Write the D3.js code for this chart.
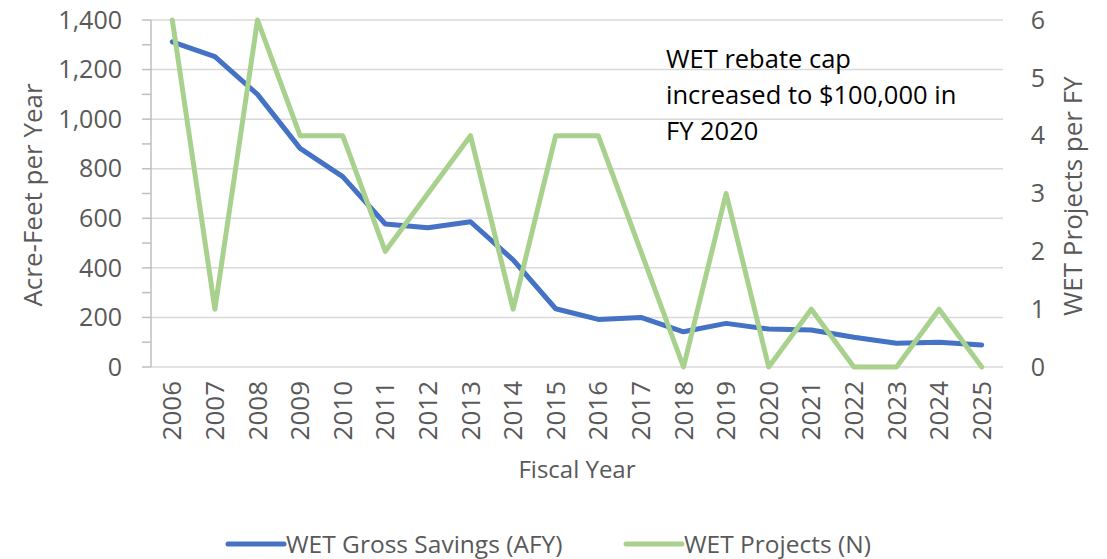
<!DOCTYPE html>
<html><head><meta charset="utf-8">
<script src="https://cdn.jsdelivr.net/npm/d3@7"></script>
<style>body{margin:0;background:#fff}svg{display:block}text{font-family:"Open Sans",sans-serif}</style>
</head><body>
<svg id="c" width="1107" height="559"></svg>
<script>
const years = ["2006","2007","2008","2009","2010","2011","2012","2013","2014","2015","2016","2017","2018","2019","2020","2021","2022","2023","2024","2025"];
const savings = [1312,1252,1100,882,768,577,562,586,432,235,192,200,142,176,153,149,120,96,100,89];
const projects = [6,1,6,4,4,2,3,4,1,4,4,2,0,3,0,1,0,0,1,0];
const leftTicks = [0,200,400,600,800,1000,1200,1400];
const rightTicks = [0,1,2,3,4,5,6];
const annotation = ["WET rebate cap","increased to $100,000 in","FY 2020"];

const svg = d3.select("#c");
const L = 151, R = 1003, T = 20, B = 367;
const x = d3.scaleBand().domain(years).range([L, R]);
const yL = d3.scaleLinear().domain([0,1400]).range([B, T]);
const yR = d3.scaleLinear().domain([0,6]).range([B, T]);
const gray = "#595959";

// gridlines
svg.append("g").selectAll("line").data(leftTicks).join("line")
  .attr("x1", L).attr("x2", R).attr("y1", d=>yL(d)).attr("y2", d=>yL(d))
  .attr("stroke", "#d9d9d9").attr("stroke-width", 1.5);

// left axis with minor ticks
const minor = d3.range(0, 1401, 100);
svg.append("g").selectAll("line").data(minor).join("line")
  .attr("x1", L-9).attr("x2", L).attr("y1", d=>yL(d)).attr("y2", d=>yL(d))
  .attr("stroke", "#bfbfbf").attr("stroke-width", 1.5);
svg.append("line").attr("x1", L).attr("x2", L).attr("y1", T).attr("y2", B)
  .attr("stroke", "#bfbfbf").attr("stroke-width", 1.5);

svg.append("g").selectAll("text").data(leftTicks).join("text")
  .attr("x", 122).attr("y", d=>yL(d)).attr("dy", "0.35em").attr("text-anchor", "end")
  .attr("fill", gray).attr("font-size", 25).text(d3.format(","));

svg.append("g").selectAll("text").data(rightTicks).join("text")
  .attr("x", 1038).attr("y", d=>yR(d)).attr("dy", "0.35em").attr("text-anchor", "middle")
  .attr("fill", gray).attr("font-size", 25).text(d=>d);

// x labels
svg.append("g").selectAll("text").data(years).join("text")
  .attr("transform", d=>`translate(${x(d)+x.bandwidth()/2},381) rotate(-90)`)
  .attr("dy", "0.35em").attr("text-anchor", "end")
  .attr("fill", gray).attr("font-size", 26).text(d=>d);

// axis titles
svg.append("text").attr("transform", "translate(33,195) rotate(-90)")
  .attr("dy", "0.35em").attr("text-anchor", "middle").attr("fill", gray).attr("font-size", 26)
  .text("Acre-Feet per Year");
svg.append("text").attr("transform", "translate(1073,196) rotate(-90)")
  .attr("dy", "0.35em").attr("text-anchor", "middle").attr("fill", gray).attr("font-size", 26)
  .text("WET Projects per FY");
svg.append("text").attr("x", 577).attr("y", 470).attr("dy", "0.35em")
  .attr("text-anchor", "middle").attr("fill", gray).attr("font-size", 24).text("Fiscal Year");

// lines
const cx = d => x(d) + x.bandwidth()/2;
svg.append("path").datum(savings)
  .attr("d", d3.line().x((d,i)=>cx(years[i])).y(d=>yL(d)))
  .attr("fill", "none").attr("stroke", "#4472C4").attr("stroke-width", 5).attr("stroke-linejoin", "round").attr("stroke-linecap", "round");
svg.append("path").datum(projects)
  .attr("d", d3.line().x((d,i)=>cx(years[i])).y(d=>yR(d)))
  .attr("fill", "none").attr("stroke", "#A9D18E").attr("stroke-width", 5).attr("stroke-linejoin", "round").attr("stroke-linecap", "round");

// annotation
svg.append("g").selectAll("text").data(annotation).join("text")
  .attr("x", 666).attr("y", (d,i)=>68 + i*36).attr("fill", "#000").attr("font-size", 25.5).text(d=>d);

// legend
const leg = [{n:"WET Gross Savings (AFY)", c:"#4472C4", x:228},{n:"WET Projects (N)", c:"#A9D18E", x:626}];
const lg = svg.append("g").selectAll("g").data(leg).join("g").attr("transform", d=>`translate(${d.x},544)`);
lg.append("line").attr("x1",0).attr("x2",56).attr("stroke", d=>d.c).attr("stroke-width",5).attr("stroke-linecap","round");
lg.append("text").attr("x",58).attr("dy","0.35em").attr("fill",gray).attr("font-size",24.5).text(d=>d.n);
</script>
</body></html>
